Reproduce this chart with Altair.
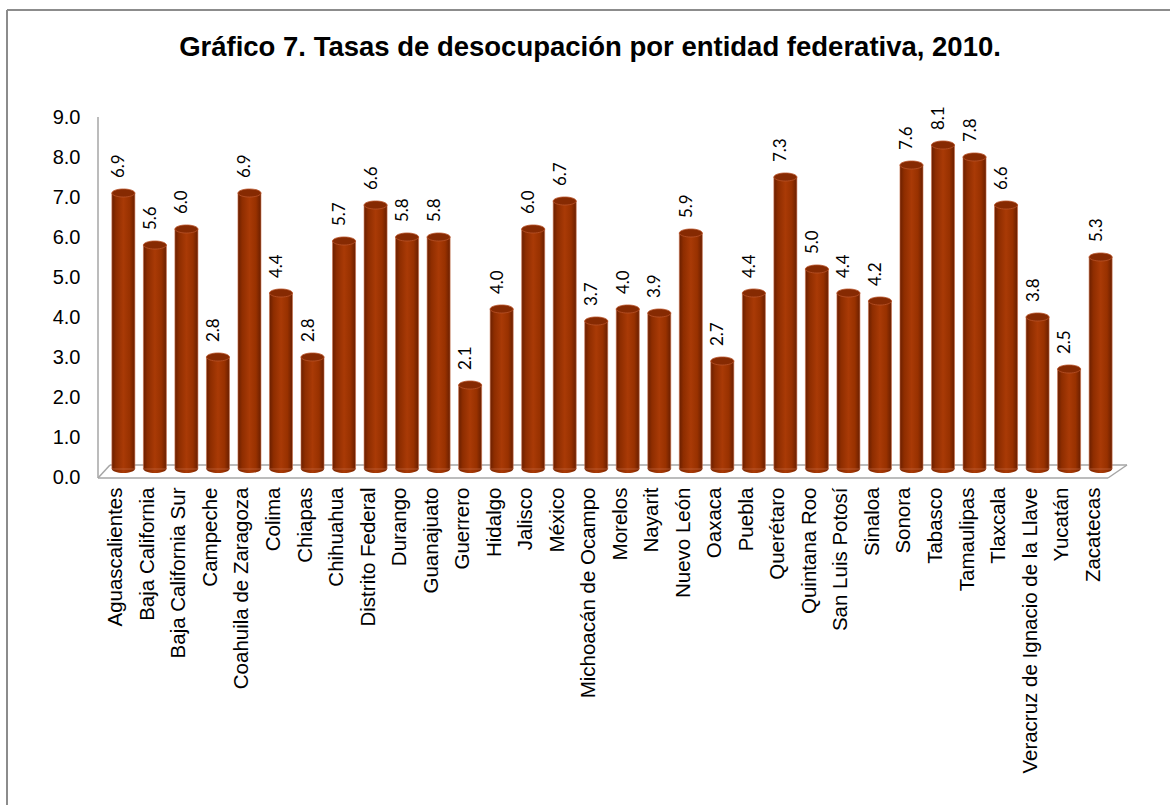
import altair as alt
import pandas as pd

# ---- data ----
entidades = [
    "Aguascalientes", "Baja California", "Baja California Sur", "Campeche",
    "Coahuila de Zaragoza", "Colima", "Chiapas", "Chihuahua", "Distrito Federal",
    "Durango", "Guanajuato", "Guerrero", "Hidalgo", "Jalisco", "México",
    "Michoacán de Ocampo", "Morelos", "Nayarit", "Nuevo León", "Oaxaca", "Puebla",
    "Querétaro", "Quintana Roo", "San Luis Potosí", "Sinaloa", "Sonora", "Tabasco",
    "Tamaulipas", "Tlaxcala", "Veracruz de Ignacio de la Llave", "Yucatán", "Zacatecas",
]
tasas = [
    6.9, 5.6, 6.0, 2.8, 6.9, 4.4, 2.8, 5.7, 6.6, 5.8, 5.8, 2.1, 4.0, 6.0, 6.7,
    3.7, 4.0, 3.9, 5.9, 2.7, 4.4, 7.3, 5.0, 4.4, 4.2, 7.6, 8.1, 7.8, 6.6, 3.8, 2.5, 5.3,
]
y_ticks = [0, 1, 2, 3, 4, 5, 6, 7, 8, 9]
titulo = "Gráfico 7. Tasas de desocupación por entidad federativa, 2010."

df = pd.DataFrame({"entidad": entidades, "tasa": tasas})
df["etiqueta"] = df["tasa"].map(lambda v: f"{v:.1f}")

W, H = 1028, 360
AXIS_FONT = "Liberation Sans"

x_enc = alt.X(
    "entidad:N",
    sort=entidades,
    scale=alt.Scale(paddingInner=0.27, paddingOuter=0.44),
    axis=alt.Axis(
        title=None, labelAngle=270, labelAlign="right", labelBaseline="middle",
        labelFont=AXIS_FONT, labelFontSize=20.5, labelColor="#000000",
        labelPadding=18, labelOffset=-7, ticks=False, domain=False, labelLimit=500,
    ),
)
y_enc = alt.Y(
    "tasa:Q",
    scale=alt.Scale(domain=[0, 9], nice=False, zero=True),
    axis=alt.Axis(
        title=None, values=y_ticks, format=".1f", labelFont=AXIS_FONT,
        labelFontSize=20, labelColor="#000000", labelPadding=18, labelOffset=8,
        ticks=False, domain=False, grid=False,
    ),
)

body = alt.Gradient(
    gradient="linear", x1=0, x2=1, y1=0, y2=0,
    stops=[
        alt.GradientStop(offset=0.0, color="#6a1f00"),
        alt.GradientStop(offset=0.18, color="#8e2d00"),
        alt.GradientStop(offset=0.5, color="#a93a06"),
        alt.GradientStop(offset=0.78, color="#983100"),
        alt.GradientStop(offset=1.0, color="#6a1f00"),
    ],
)
ELLIPSE = "M-1,0 A1,0.35 0 1,0 1,0 A1,0.35 0 1,0 -1,0 Z"

base = alt.Chart(df)

bottoms = base.mark_point(
    shape=ELLIPSE, size=529, filled=True, color=body, opacity=1, strokeWidth=0
).encode(x=x_enc, y=alt.value(H))

bars = base.mark_bar(color=body, stroke="#c9714c", strokeWidth=0.6).encode(x=x_enc, y=y_enc)

tops = base.mark_point(
    shape=ELLIPSE, size=529, filled=True, fill="#862a02", stroke="#b8532a",
    strokeWidth=0.8, opacity=1,
).encode(x=x_enc, y=y_enc)

labels = base.mark_text(
    angle=270, align="left", baseline="middle", dx=15, dy=-4,
    font="Lato", fontSize=17, color="#000000",
).encode(x=x_enc, y=y_enc, text="etiqueta:N")

one = pd.DataFrame({"k": [0]})


def seg(x1, y1, x2, y2, color="#a6a6a6", width=1.5):
    return alt.Chart(one).mark_rule(color=color, strokeWidth=width).encode(
        x=alt.value(x1), y=alt.value(y1), x2=alt.value(x2), y2=alt.value(y2)
    )


frame = [
    seg(0, 8, 0, 369),          # vertical axis
    seg(0, 369, 1010, 369),     # floor front
    seg(12, 356, 1029, 356),    # floor back
    seg(0, 369, 12, 356),       # floor left
    seg(1010, 369, 1029, 356),  # floor right
    seg(-91, -99, 1090, -99, color="#8c8c8c", width=2),  # outer border top
    seg(-91, -99, -91, 720, color="#8c8c8c", width=2),   # outer border left
]

chart = alt.layer(
    *frame, bottoms, bars, tops, labels
).properties(
    width=W, height=H,
    background="#ffffff",
    title=alt.TitleParams(
        text=titulo, font=AXIS_FONT, fontSize=27.5, fontWeight="bold", color="#000000",
        anchor="middle", dx=-22, baseline="alphabetic", offset=-74,
    ),
    autosize=alt.AutoSizeParams(type="none"),
    padding={"left": 98, "top": 109, "right": 44, "bottom": 336},
).configure_view(strokeWidth=0, stroke=None)

chart.save("out.html", embed_options={"renderer": "svg", "actions": False})
